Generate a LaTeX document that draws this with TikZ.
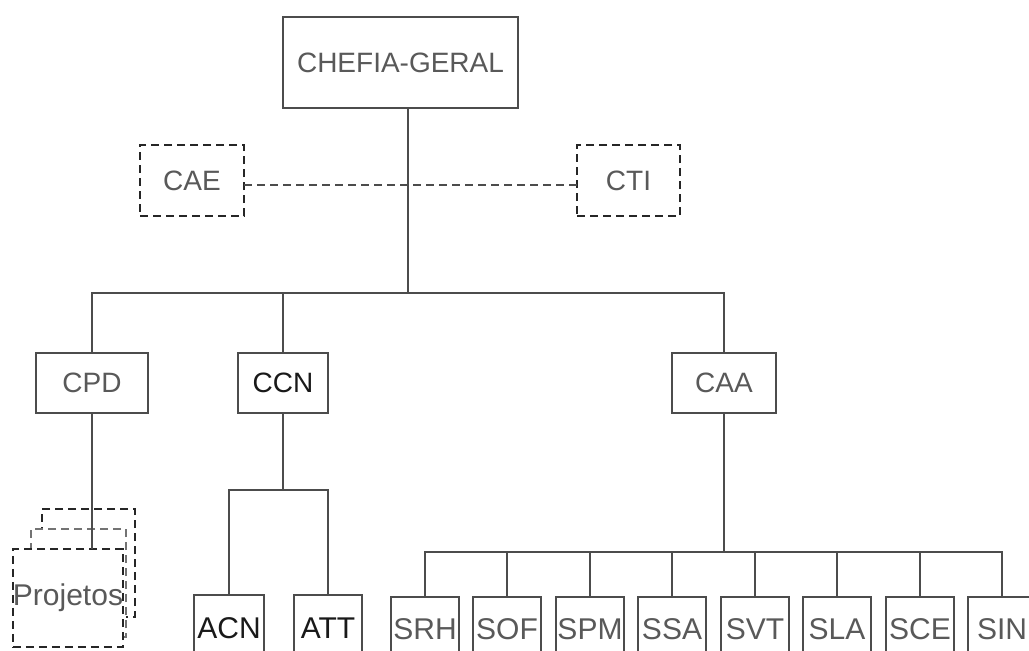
\documentclass[tikz,border=0pt]{standalone}
\usepackage{fontspec}
\setmainfont{Liberation Sans}
\begin{document}
\begin{tikzpicture}[x=1pt,y=-1pt,
  box/.style={draw=black!70,line width=1.7pt,inner sep=0pt,outer sep=0pt,text=black!65,font=\fontsize{28}{30}\selectfont},
  dbox/.style={box,draw=black!85,line width=2.4pt,dash pattern=on 8pt off 5pt},
  sbox/.style={box,minimum width=68pt,minimum height=64pt,font=\fontsize{30}{32}\selectfont},
  link/.style={draw=black!70,line width=1.8pt}]
\clip (0,0) rectangle (1029,651);
\fill[white] (0,0) rectangle (1029,651);
\node[box,minimum width=235pt,minimum height=91pt] (chefia) at (400.5,62.5) {CHEFIA-GERAL};
\node[dbox,minimum width=104pt,minimum height=71pt] (cae) at (192,180.5) {CAE};
\node[dbox,minimum width=103pt,minimum height=71pt] (cti) at (628.5,180.5) {CTI};
\node[box,minimum width=112pt,minimum height=60pt] (cpd) at (92,383) {CPD};
\node[box,minimum width=90pt,minimum height=60pt,text=black!90] (ccn) at (283,383) {CCN};
\node[box,minimum width=104pt,minimum height=60pt] (caa) at (724,383) {CAA};
\node[sbox,minimum width=70pt,minimum height=66pt,text=black!90] (acn) at (229,628) {ACN};
\node[sbox,minimum width=68pt,minimum height=66pt,text=black!90] (att) at (328,628) {ATT};
\foreach \px/\name [count=\i from 0] in {425/SRH,507/SOF,590/SPM,672/SSA,755/SVT,837/SLA,920/SCE,1002/SIN}
  \node[sbox] (s\i) at (\px,629) {\name};
% projetos, stacked
\node[dbox,minimum width=93pt,minimum height=108pt,fill=white] (projA) at (88.5,563) {};
\node[dbox,draw=black!55,minimum width=95pt,minimum height=108pt,fill=white] (projB) at (78.5,583) {};
\node[dbox,minimum width=94pt,minimum height=98pt,fill=white,font=\fontsize{30}{32}\selectfont] (proj) at (68,598) {Projetos};
% connectors
\coordinate (bus) at (0,293);
\draw[link] ([xshift=7.5pt]chefia.south) -- ([xshift=7.5pt]chefia.south |- bus);
\draw[link] (cpd.north) -- (cpd.north |- bus) -| (caa.north);
\draw[link] (ccn.north) -- (ccn.north |- bus);
\draw[link,dash pattern=on 8pt off 5pt,line width=2pt] ([yshift=-4pt]cae.east) -- ([yshift=-4pt]cti.west);
\draw[link] (cpd.south) -- (cpd.south |- proj.north);
\draw[link] (ccn.south) -- +(0,77);
\draw[link] (acn.north) -- +(0,-105) -| (att.north);
\draw[link] (caa.south) -- +(0,139);
\draw[link] (s0.north) -- +(0,-45) -| (s7.north);
\foreach \i in {1,...,6} \draw[link] (s\i.north) -- +(0,-45);
\end{tikzpicture}
\end{document}
